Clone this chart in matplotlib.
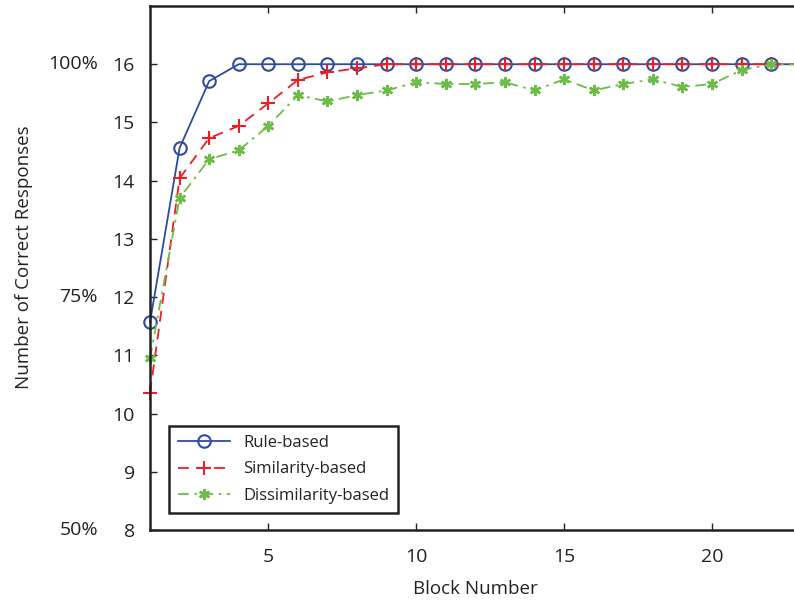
import numpy as np
import matplotlib
matplotlib.use("Agg")
from matplotlib import pyplot as plt
from matplotlib.transforms import blended_transform_factory

plt.rcParams['font.family'] = ['Open Sans', 'DejaVu Sans']

# block numbers and mean correct responses (out of 16)
blocks = list(range(1, 25))
rule_based = [11.57, 14.56, 15.71, 16, 16, 16, 16, 16, 16, 16, 16, 16,
              16, 16, 16, 16, 16, 16, 16, 16, 16, 16, 16, 16]
similarity_based = [10.35, 14.04, 14.73, 14.94, 15.33, 15.73, 15.86, 15.93,
                    16, 16, 16, 16, 16, 16, 16, 16, 16, 16, 16, 16, 16, 16, 16, 16]
dissimilarity_based = [10.95, 13.70, 14.37, 14.52, 14.94, 15.47, 15.36, 15.47,
                       15.55, 15.69, 15.66, 15.66, 15.69, 15.55, 15.74, 15.55,
                       15.66, 15.74, 15.61, 15.66, 15.90, 16, 16, 16]

yticks = [8, 9, 10, 11, 12, 13, 14, 15, 16]
xticks = [5, 10, 15, 20]
pct_levels = [8, 12, 16]
pct_labels = ['50%', '75%', '100%']

ink = '#222222'
fig = plt.figure(figsize=(7.94, 6.02), dpi=100)
# x=1 at 150px, 29.58 px per block; the axes box runs past the right edge (cropped in the original)
ax = fig.add_axes([150/794, 1 - 530/602, 23*29.58/794, 524/602])

ax.plot(blocks, rule_based, '-', color='#2e4b9e', lw=1.3, marker='o',
        ms=9, mfc='none', mec='#2e4b9e', mew=1.5, label='Rule-based',
        clip_on=False)
ax.plot(blocks, similarity_based, '--', color='#ee1c25', lw=1.3, marker='+',
        ms=10, mew=1.5, dashes=(6, 4), label='Similarity-based', clip_on=False)
ax.plot(blocks, dissimilarity_based, '-.', color='#6cbd45', lw=1.3,
        marker=(6, 2, 0), ms=8, mew=1.8, dashes=(6, 3, 1.5, 3),
        label='Dissimilarity-based', clip_on=False)

ax.set_xlim(1, 24)
ax.set_ylim(8, 17)
ax.set_xticks(xticks)
ax.set_yticks(yticks)
ax.tick_params(direction='in', length=5, width=1, top=True, right=True,
               labelsize=14, colors=ink)
ax.tick_params(axis='y', pad=11)
ax.tick_params(axis='x', pad=13)
for s in ax.spines.values():
    s.set_linewidth(1.8)
    s.set_color(ink)

ax.set_xlabel('Block Number', fontsize=13.5, color=ink, va='top')
ax.xaxis.set_label_coords(475/794, 1 - 580/602, transform=fig.transFigure)
ax.set_ylabel('Number of Correct Responses', fontsize=13.5, color=ink)
ax.yaxis.set_label_coords(33/794, 1 - 257/602, transform=fig.transFigure)

trans = blended_transform_factory(fig.transFigure, ax.transData)
for lev, lab in zip(pct_levels, pct_labels):
    ax.text(98/794, lev, lab, transform=trans, ha='right', va='center',
            fontsize=14, color=ink)

leg = ax.legend(loc='lower left', bbox_to_anchor=(169/794, 1 - 513/602),
                bbox_transform=fig.transFigure, fontsize=12, numpoints=1,
                handlelength=3.1, fancybox=False, framealpha=1,
                edgecolor=ink, borderaxespad=0, labelspacing=0.62,
                borderpad=0.55)
leg.get_frame().set_linewidth(1.8)
for t in leg.get_texts():
    t.set_color(ink)

fig.savefig('out.png', dpi=100)
